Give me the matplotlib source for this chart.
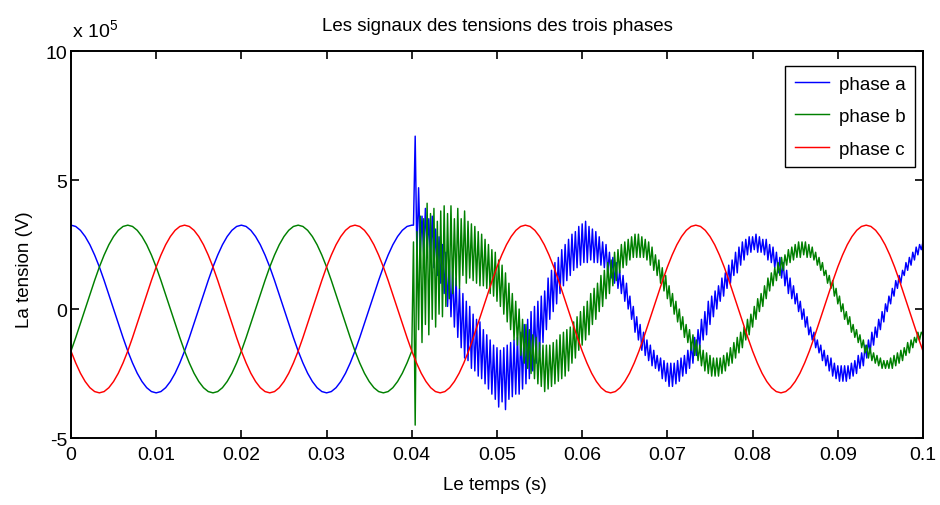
import numpy as np
import matplotlib
matplotlib.use("Agg")
import matplotlib.pyplot as plt

plt.rcParams['font.family'] = ['Liberation Sans', 'DejaVu Sans']
plt.rcParams['mathtext.default'] = 'regular'

# ---------------- text ----------------
title = 'Les signaux des tensions des trois phases'
x_label = 'Le temps (s)'
y_label = 'La tension (V)'
series_names = ['phase a', 'phase b', 'phase c']
series_colors = ['#0000ff', '#008000', '#ff0000']
x_ticks = [0, 0.01, 0.02, 0.03, 0.04, 0.05, 0.06, 0.07, 0.08, 0.09, 0.1]
x_tick_labels = ['0', '0.01', '0.02', '0.03', '0.04', '0.05', '0.06', '0.07', '0.08', '0.09', '0.1']
y_ticks = [-5, 0, 5, 10]          # in units of 1e5 V
y_tick_labels = ['-5', '0', '5', '10']
scale = 1e5

# ---------------- sampling of the read-off values ----------------
step_clean = 1 / 1800      # s, samples before the fault (and phase c)
fault_start = 0.0402       # s, first sample after the fault
step_fault = 0.0002        # s, samples after the fault

# values in 1e5 V
phase_a_pre = [
    3.25, 3.20, 3.05, 2.81, 2.49, 2.09, 1.63, 1.11, 0.56, 0.00, -0.56, -1.11,
    -1.63, -2.09, -2.49, -2.81, -3.05, -3.20, -3.25, -3.20, -3.05, -2.81, -2.49, -2.09,
    -1.63, -1.11, -0.56, 0.00, 0.56, 1.11, 1.63, 2.09, 2.49, 2.81, 3.05, 3.20,
    3.25, 3.20, 3.05, 2.81, 2.49, 2.09, 1.63, 1.11, 0.56, 0.00, -0.56, -1.11,
    -1.63, -2.09, -2.49, -2.81, -3.05, -3.20, -3.25, -3.20, -3.05, -2.81, -2.49, -2.09,
    -1.63, -1.11, -0.56, 0.00, 0.56, 1.11, 1.63, 2.09, 2.49, 2.81, 3.05, 3.20,
    3.25]

phase_b_pre = [
    -1.63, -1.11, -0.56, 0.00, 0.56, 1.11, 1.63, 2.09, 2.49, 2.81, 3.05, 3.20,
    3.25, 3.20, 3.05, 2.81, 2.49, 2.09, 1.63, 1.11, 0.56, 0.00, -0.56, -1.11,
    -1.63, -2.09, -2.49, -2.81, -3.05, -3.20, -3.25, -3.20, -3.05, -2.81, -2.49, -2.09,
    -1.63, -1.11, -0.56, 0.00, 0.56, 1.11, 1.63, 2.09, 2.49, 2.81, 3.05, 3.20,
    3.25, 3.20, 3.05, 2.81, 2.49, 2.09, 1.63, 1.11, 0.56, 0.00, -0.56, -1.11,
    -1.63, -2.09, -2.49, -2.81, -3.05, -3.20, -3.25, -3.20, -3.05, -2.81, -2.49, -2.09,
    -1.63]

phase_a_post = [
    3.25,
    6.7, 2.1, 4.7, 2.2, 3.6, 2.1, 3.9, 2.2, 3.5, 1.9, 3.6, 1.6, 3.1, 1.3, 2.8, 1.0,
    2.5, 0.6, 2.2, 0.1, 1.8, -0.3, 1.5, -0.7, 1.2, -1.1, 0.8, -1.5, 0.6, -1.9, 0.3, -2.0,
    0.1, -2.3, -0.2, -2.4, -0.4, -2.6, -0.5, -2.7, -0.8, -2.9, -1.0, -3.1, -1.2, -3.3, -1.4, -3.5,
    -1.5, -3.8, -1.6, -3.6, -1.5, -3.9, -1.4, -3.5, -1.3, -3.4, -1.2, -3.3, -1.1, -3.3, -0.9, -3.1,
    -0.6, -2.9, -0.4, -2.7, -0.1, -2.4, 0.1, -2.1, 0.3, -1.8, 0.5, -1.3, 0.7, -0.8, 1.2, -0.4,
    1.5, -0.1, 1.8, 0.2, 2.0, 0.6, 2.3, 0.9, 2.5, 1.1, 2.7, 1.3, 2.9, 1.5, 3.0, 1.6,
    3.2, 1.7, 3.3, 1.8, 3.4, 1.8, 3.2, 1.9, 3.1, 1.8, 3.0, 1.8, 2.8, 1.7, 2.6, 1.6,
    2.5, 1.4, 2.2, 1.2, 2.0, 1.0, 1.8, 0.8, 1.5, 0.6, 1.3, 0.3, 1.0, 0.0, 0.5, -0.4,
    0.1, -0.9, -0.3, -1.2, -0.6, -1.6, -0.9, -1.8, -1.2, -2.0, -1.4, -2.2, -1.6, -2.3, -1.8, -2.4,
    -1.9, -2.7, -2.0, -2.8, -2.1, -3.0, -2.1, -3.0, -2.1, -2.9, -2.0, -2.8, -1.9, -2.6, -1.8, -2.5,
    -1.6, -2.3, -1.3, -2.1, -1.1, -1.8, -0.8, -1.5, -0.4, -1.2, -0.1, -1.0, 0.3, -0.6, 0.5, -0.3,
    0.7, 0.0, 0.9, 0.3, 1.2, 0.5, 1.4, 0.8, 1.7, 1.0, 1.9, 1.3, 2.2, 1.4, 2.4, 1.7,
    2.6, 1.9, 2.7, 2.1, 2.8, 2.2, 2.8, 2.3, 2.9, 2.2, 2.8, 2.2, 2.7, 2.1, 2.7, 1.9,
    2.5, 1.8, 2.4, 1.6, 2.2, 1.4, 2.0, 1.2, 1.8, 0.9, 1.5, 0.6, 1.2, 0.4, 0.9, 0.2,
    0.6, -0.1, 0.3, -0.4, 0.0, -0.7, -0.3, -1.0, -0.7, -1.2, -0.9, -1.5, -1.2, -1.7, -1.4, -2.0,
    -1.6, -2.2, -1.8, -2.4, -1.9, -2.6, -2.1, -2.7, -2.2, -2.8, -2.2, -2.8, -2.2, -2.8, -2.2, -2.7,
    -2.1, -2.6, -2.0, -2.5, -1.8, -2.3, -1.7, -2.2, -1.4, -1.9, -1.2, -1.7, -0.9, -1.4, -0.7, -1.1,
    -0.4, -0.8, -0.1, -0.5, 0.2, -0.1, 0.5, 0.2, 0.8, 0.5, 1.1, 0.8, 1.3, 1.0, 1.5, 1.3,
    1.8, 1.5, 2.0, 1.7, 2.2, 1.9, 2.4, 2.1, 2.5, 2.3,
    2.6]

phase_b_post = [
    2.6, -4.5,
    3.0, -0.8, 3.6, -1.3, 3.5, -0.6, 4.1, -1.0, 3.7, -0.4, 3.9, -0.7, 3.4, -0.2, 3.8, -0.3,
    4.0, 0.1, 3.7, 0.4, 4.0, 0.6, 3.5, 0.9, 3.9, 0.8, 3.5, 1.3, 3.8, 1.0, 3.4, 1.2,
    3.3, 1.1, 3.2, 1.0, 3.0, 0.9, 2.9, 0.9, 2.7, 0.8, 2.5, 0.6, 2.3, 0.5, 2.2, 0.3,
    1.9, 0.1, 1.7, -0.2, 1.4, -0.5, 1.0, -0.8, 0.6, -1.2, 0.3, -1.4, 0.0, -1.8, -0.4, -2.1,
    -0.6, -2.3, -0.8, -2.5, -1.0, -2.7, -1.1, -2.9, -1.3, -3.0, -1.4, -3.2, -1.4, -3.1, -1.4, -3.0,
    -1.3, -2.9, -1.2, -2.8, -1.0, -2.7, -0.9, -2.6, -0.8, -2.4, -0.7, -2.1, -0.5, -1.9, -0.3, -1.6,
    -0.1, -1.4, 0.1, -1.2, 0.3, -1.0, 0.6, -0.6, 0.8, -0.4, 1.0, -0.1, 1.3, 0.1, 1.5, 0.4,
    1.8, 0.6, 1.9, 0.9, 2.2, 1.1, 2.3, 1.4, 2.5, 1.6, 2.6, 1.7, 2.7, 1.9, 2.8, 2.0,
    2.9, 2.0, 2.9, 2.0, 2.8, 2.0, 2.7, 1.9, 2.6, 1.7, 2.4, 1.5, 2.1, 1.3, 1.9, 1.0,
    1.6, 0.7, 1.3, 0.4, 0.9, 0.1, 0.6, -0.2, 0.3, -0.5, 0.0, -0.8, -0.3, -1.1, -0.6, -1.3,
    -0.8, -1.6, -1.0, -1.8, -1.2, -2.0, -1.4, -2.2, -1.6, -2.4, -1.7, -2.5, -1.8, -2.6, -1.9, -2.6,
    -1.9, -2.6, -1.9, -2.5, -1.8, -2.4, -1.7, -2.2, -1.5, -2.1, -1.3, -1.9, -1.1, -1.7, -0.9, -1.5,
    -0.7, -1.2, -0.4, -1.0, -0.2, -0.7, 0.1, -0.4, 0.4, -0.1, 0.6, 0.1, 0.9, 0.4, 1.2, 0.7,
    1.4, 0.9, 1.6, 1.1, 1.8, 1.3, 2.0, 1.5, 2.1, 1.7, 2.3, 1.8, 2.4, 1.9, 2.5, 2.0,
    2.6, 2.0, 2.6, 2.1, 2.6, 2.0, 2.5, 2.0, 2.4, 1.9, 2.2, 1.7, 2.0, 1.5, 1.8, 1.3,
    1.5, 1.0, 1.3, 0.8, 1.1, 0.5, 0.8, 0.2, 0.5, -0.1, 0.2, -0.4, -0.1, -0.6, -0.3, -0.9,
    -0.6, -1.1, -0.8, -1.3, -1.0, -1.5, -1.2, -1.7, -1.4, -1.9, -1.5, -2.0, -1.7, -2.1, -1.8, -2.2,
    -1.9, -2.3, -2.0, -2.3, -2.0, -2.3, -1.9, -2.3, -1.8, -2.2, -1.7, -2.1, -1.6, -2.0, -1.5, -1.8,
    -1.3, -1.7, -1.2, -1.5, -1.1, -1.3, -0.9, -1.2, -0.9, -1.0]

phase_c = [
    -1.63, -2.09, -2.49, -2.81, -3.05, -3.20, -3.25, -3.20, -3.05, -2.81, -2.49, -2.09,
    -1.63, -1.11, -0.56, 0.00, 0.56, 1.11, 1.63, 2.09, 2.49, 2.81, 3.05, 3.20,
    3.25, 3.20, 3.05, 2.81, 2.49, 2.09, 1.63, 1.11, 0.56, 0.00, -0.56, -1.11,
    -1.63, -2.09, -2.49, -2.81, -3.05, -3.20, -3.25, -3.20, -3.05, -2.81, -2.49, -2.09,
    -1.63, -1.11, -0.56, 0.00, 0.56, 1.11, 1.63, 2.09, 2.49, 2.81, 3.05, 3.20,
    3.25, 3.20, 3.05, 2.81, 2.49, 2.09, 1.63, 1.11, 0.56, 0.00, -0.56, -1.11,
    -1.63, -2.09, -2.49, -2.81, -3.05, -3.20, -3.25, -3.20, -3.05, -2.81, -2.49, -2.09,
    -1.63, -1.11, -0.56, 0.00, 0.56, 1.11, 1.63, 2.09, 2.49, 2.81, 3.05, 3.20,
    3.25, 3.20, 3.05, 2.81, 2.49, 2.09, 1.63, 1.11, 0.56, 0.00, -0.56, -1.11,
    -1.63, -2.09, -2.49, -2.81, -3.05, -3.20, -3.25, -3.20, -3.05, -2.81, -2.49, -2.09,
    -1.63, -1.11, -0.56, 0.00, 0.56, 1.11, 1.63, 2.09, 2.49, 2.81, 3.05, 3.20,
    3.25, 3.20, 3.05, 2.81, 2.49, 2.09, 1.63, 1.11, 0.56, 0.00, -0.56, -1.11,
    -1.63, -2.09, -2.49, -2.81, -3.05, -3.20, -3.25, -3.20, -3.05, -2.81, -2.49, -2.09,
    -1.63, -1.11, -0.56, 0.00, 0.56, 1.11, 1.63, 2.09, 2.49, 2.81, 3.05, 3.20,
    3.25, 3.20, 3.05, 2.81, 2.49, 2.09, 1.63, 1.11, 0.56, 0.00, -0.56, -1.11,
    -1.63]

# ---------------- time axes ----------------
t_pre = np.arange(len(phase_a_pre)) * step_clean
t_post_a = fault_start + np.arange(len(phase_a_post)) * step_fault
t_post_b = fault_start + np.arange(len(phase_b_post)) * step_fault
t_c = np.arange(len(phase_c)) * step_clean

t_a = np.concatenate([t_pre, t_post_a])
v_a = np.concatenate([phase_a_pre, phase_a_post]) * scale
t_b = np.concatenate([t_pre, t_post_b])
v_b = np.concatenate([phase_b_pre, phase_b_post]) * scale
v_c = np.array(phase_c) * scale

# ---------------- figure ----------------
fig = plt.figure(figsize=(9.4, 5.06), dpi=100)
ax = fig.add_axes([0.0755, 0.1324, 0.9064, 0.7648])

lw = 1.05
ax.plot(t_a, v_a, color=series_colors[0], lw=lw, label=series_names[0])
ax.plot(t_b, v_b, color=series_colors[1], lw=lw, label=series_names[1])
ax.plot(t_c, v_c, color=series_colors[2], lw=lw, label=series_names[2])

ax.set_xlim(0, 0.1)
ax.set_ylim(y_ticks[0] * scale, y_ticks[-1] * scale)
ax.set_xticks(x_ticks)
ax.set_xticklabels(x_tick_labels)
ax.set_yticks(np.array(y_ticks) * scale)
ax.set_yticklabels(y_tick_labels)

ax.tick_params(direction='in', top=True, right=True, length=6, width=1.2,
               labelsize=14, colors='black')
ax.tick_params(axis='x', pad=5.5)
ax.tick_params(axis='y', pad=2.5)
for s in ax.spines.values():
    s.set_linewidth(1.4)
    s.set_color('black')

ax.set_title(title, fontsize=13.5, pad=15)
ax.set_xlabel(x_label, fontsize=13.5)
ax.xaxis.set_label_coords(0.497, -0.098)
ax.xaxis.label.set_va('top')
ax.set_ylabel(y_label, fontsize=13.5)
ax.yaxis.set_label_coords(-0.0446, 0.437)

ax.annotate('x 10$^5$', xy=(0, 1), xycoords='axes fraction',
            xytext=(1, 11), textcoords='offset points',
            ha='left', va='baseline', fontsize=14)

leg = ax.legend(loc='upper right', bbox_to_anchor=(0.9906, 0.9612),
                borderaxespad=0, frameon=True, fancybox=False,
                edgecolor='black', framealpha=1, fontsize=13.5,
                handlelength=1.8, handletextpad=0.55, labelspacing=0.82,
                borderpad=0.5)
leg.get_frame().set_linewidth(1.0)

fig.savefig('out.png', dpi=100)
